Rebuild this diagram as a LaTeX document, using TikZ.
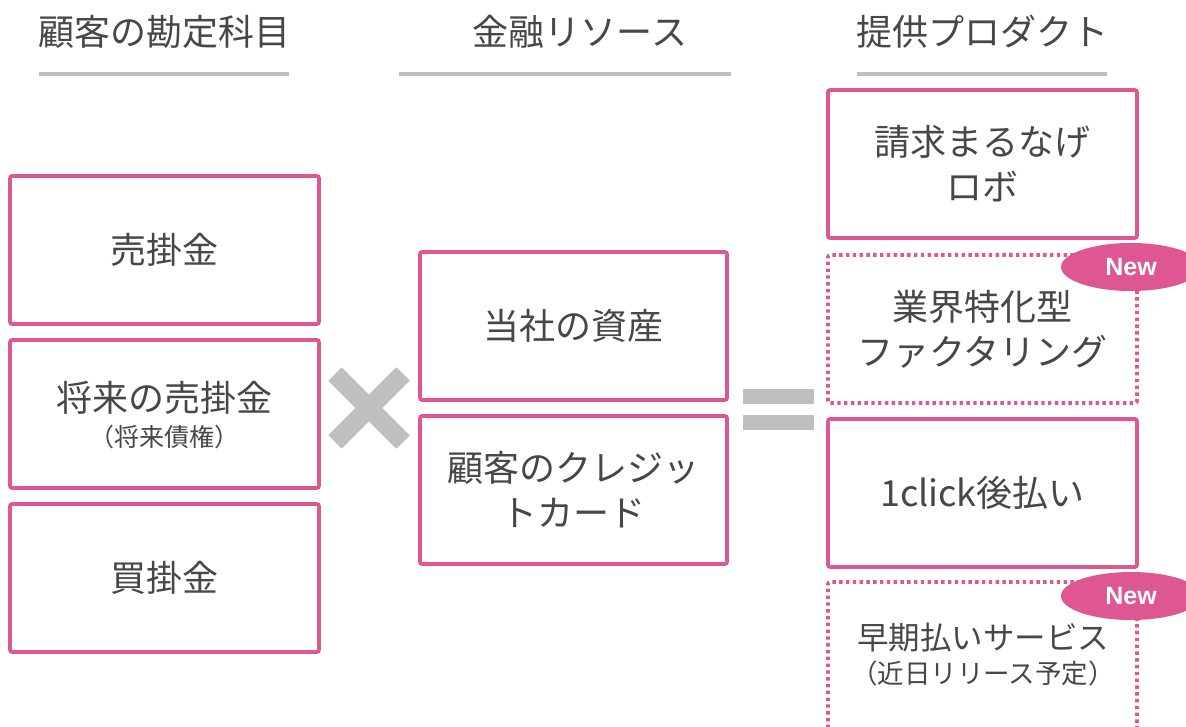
\documentclass[tikz,border=0pt]{standalone}
\usepackage{fontspec}
\setmainfont{Noto Sans CJK JP}
\newfontfamily\badgefont{Liberation Sans}
\usetikzlibrary{shapes.geometric}
\definecolor{pk}{HTML}{DE5692}
\definecolor{tx}{HTML}{474747}
\definecolor{gr}{HTML}{BFBFBF}
\tikzset{
  pbox/.style={draw=pk, line width=3.6pt, rounded corners=2pt, minimum width=#1, minimum height=148pt, inner sep=0pt, text=tx, align=center, font=\fontsize{36}{45}\selectfont},
  pbox/.default=309pt,
  dbox/.style={pbox=309pt, dash pattern=on 3.4pt off 3.4pt, line cap=butt},
  head/.style={text=tx, font=\fontsize{36}{40}\selectfont},
  hline/.style={draw=gr, line width=4pt},
  badge/.style={ellipse, fill=pk, minimum width=140pt, minimum height=48pt, inner sep=0pt, text=white, font=\badgefont\bfseries\fontsize{25}{28}\selectfont},
  small/.style={font=\fontsize{25}{28}\selectfont},
  sym/.style={draw=gr, line width=19pt, line cap=butt}
}
\begin{document}
\begin{tikzpicture}[x=1pt,y=-1pt]
\useasboundingbox (0,0) rectangle (1186,727);
% headers
\node[head] (h1) at (164,32) {顧客の勘定科目};
\node[head] (h2) at (580,32) {金融リソース};
\node[head] (h3) at (982,32) {提供プロダクト};
\draw[hline] (39,74) -- (289,74);
\draw[hline] (399,74) -- (731,74);
\draw[hline] (857,74) -- (1107,74);
% left boxes
\node[pbox] (l1) at (164.5,250) {売掛金};
\node[pbox] (l2) at (164.5,414) {};
\node[text=tx, font=\fontsize{36}{45}\selectfont] (l2a) at (164.5,398) {将来の売掛金};
\node[text=tx, small] (l2b) at (164.5,437) {（将来債権）};
\node[pbox] (l3) at (164.5,578) {買掛金};
% middle boxes
\node[pbox=307pt] (m1) at (573.5,326) {当社の資産};
\node[pbox=307pt] (m2) at (573.5,490) {顧客のクレジッ\\トカード};
% right boxes
\node[pbox] (r1) at (982.5,164) {請求まるなげ\\ロボ};
\node[dbox] (r2) at (982.5,329) {業界特化型\\ファクタリング};
\node[pbox] (r3) at (982.5,493) {1click後払い};
\node[dbox] (r4) at (982.5,656) {};
\node[text=tx, font=\fontsize{31.5}{40}\selectfont] (r4a) at (983,638) {早期払いサービス};
\node[text=tx, font=\fontsize{26.5}{30}\selectfont] (r4b) at (983,673) {（近日リリース予定）};
% badges
\node[badge] (b1) at (1131,267) {New};
\node[badge] (b2) at (1131,596) {New};
% times sign
\draw[sym] (335,374) -- (403,442);
\draw[sym] (335,442) -- (403,374);
% equals sign
\fill[gr] (743,389) rectangle (814,404);
\fill[gr] (743,415) rectangle (814,430);
\end{tikzpicture}
\end{document}
